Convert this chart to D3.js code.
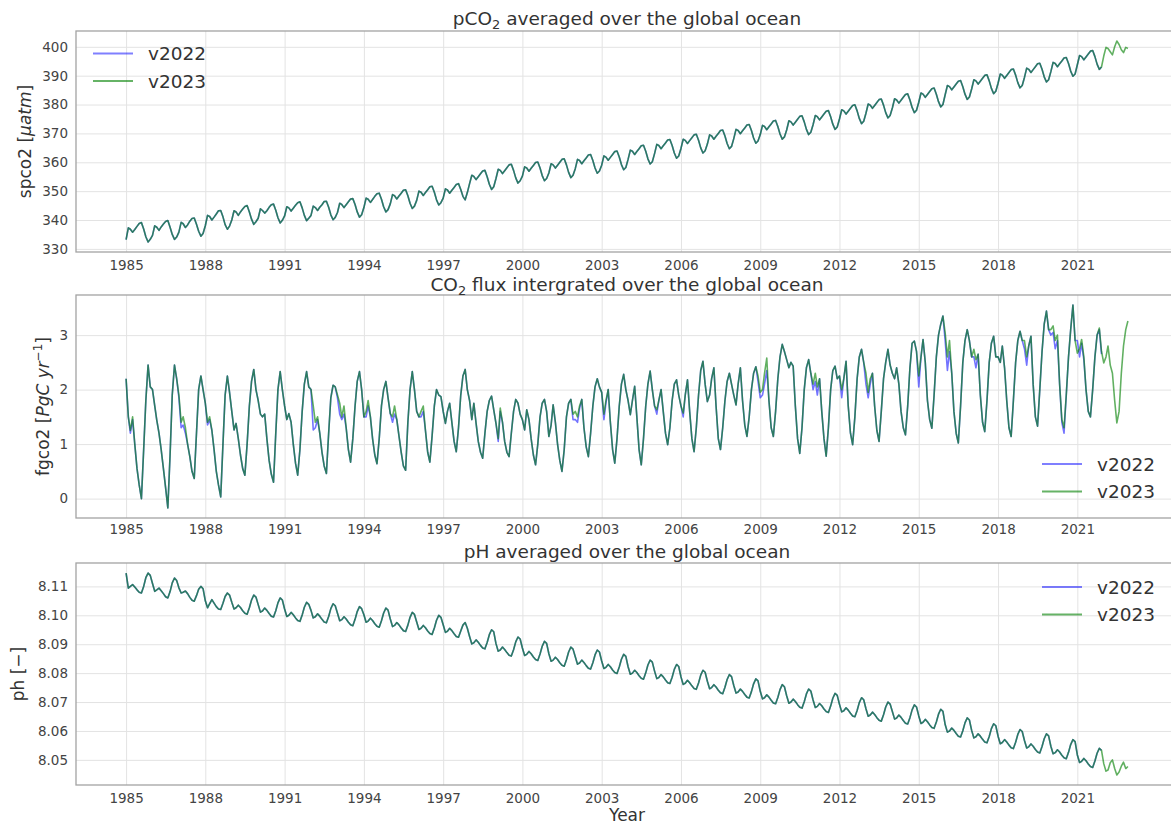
<!DOCTYPE html>
<html lang="en">
<head>
<meta charset="utf-8">
<title>Global ocean carbon: v2022 vs v2023</title>
<script src="https://cdn.jsdelivr.net/npm/d3@7/dist/d3.min.js"></script>
<style>
    html, body { margin: 0; background: #ffffff; overflow: hidden; }
    #chart svg { display: block; overflow: hidden; }
    #chart text { font-family: "DejaVu Sans", Verdana, sans-serif; }
</style>
</head>
<body>
<div id="chart"></div>
<script>
// Monthly values from Jan 1985, one row per year
const startYear = 1985;
const seriesNames = ['v2022', 'v2023'];
const seriesColors = ['#0000ff', '#008000'];
const xTickYears = [1985, 1988, 1991, 1994, 1997, 2000, 2003, 2006, 2009, 2012, 2015, 2018, 2021];
const spco2Ticks = [330, 340, 350, 360, 370, 380, 390, 400];
const fgco2Ticks = [0, 1, 2, 3];
const phTicks = [8.05, 8.06, 8.07, 8.08, 8.09, 8.10, 8.11];

// spco2 [uatm], v2023 (1985-2022)
const spco2V2023 = [
    333.2, 337.3, 336.8, 335.8, 336.7, 337.8, 338.8, 339.1, 336.9, 334.2, 332.4, 333.3, // 1985
    334.7, 338.0, 337.5, 336.4, 337.6, 338.6, 339.5, 339.8, 337.5, 335.0, 333.3, 334.1,
    335.8, 339.2, 338.7, 337.4, 338.3, 339.6, 340.5, 340.7, 338.5, 336.1, 334.4, 335.3,
    338.0, 341.6, 341.2, 340.0, 341.0, 342.1, 343.2, 343.3, 341.1, 338.4, 336.8, 337.9,
    340.0, 343.2, 342.8, 341.6, 342.8, 343.8, 344.7, 345.0, 342.8, 340.3, 338.5, 339.4,
    340.6, 343.9, 343.3, 342.4, 343.2, 344.4, 345.3, 345.5, 343.4, 340.8, 339.0, 339.9, // 1990
    341.4, 344.6, 344.2, 343.1, 344.1, 345.1, 346.0, 346.3, 344.2, 341.6, 339.8, 340.6,
    341.6, 344.8, 344.3, 343.3, 344.4, 345.3, 346.4, 346.5, 344.4, 341.8, 340.1, 340.9,
    342.6, 345.8, 345.4, 344.3, 345.3, 346.3, 347.3, 347.4, 345.4, 342.8, 341.0, 341.8,
    344.3, 347.6, 347.2, 346.1, 347.1, 348.2, 349.1, 349.3, 347.2, 344.6, 342.8, 343.6,
    345.6, 348.8, 348.4, 347.3, 348.3, 349.3, 350.3, 350.5, 348.4, 345.8, 344.0, 344.8, // 1995
    346.8, 350.0, 349.6, 348.5, 349.5, 350.5, 351.5, 351.7, 349.6, 347.0, 345.2, 346.0,
    347.6, 350.8, 350.4, 349.3, 350.3, 351.3, 352.3, 352.6, 350.6, 348.2, 347.0, 349.5,
    352.6, 355.5, 355.1, 354.0, 355.0, 356.0, 357.0, 357.2, 355.0, 352.4, 350.6, 351.5,
    354.4, 357.6, 357.2, 356.1, 357.1, 358.1, 359.1, 359.3, 357.2, 354.6, 352.8, 353.6,
    355.2, 358.4, 358.0, 356.9, 357.9, 358.9, 359.9, 360.1, 358.0, 355.4, 353.6, 354.4, // 2000
    356.3, 359.5, 359.1, 358.0, 359.0, 360.0, 361.0, 361.2, 359.1, 356.5, 354.7, 355.5,
    357.8, 361.0, 360.6, 359.5, 360.5, 361.5, 362.5, 362.7, 360.6, 358.0, 356.2, 357.0,
    359.0, 362.2, 361.8, 360.7, 361.7, 362.7, 363.7, 363.9, 361.8, 359.2, 357.4, 358.2,
    361.0, 364.2, 363.8, 362.7, 363.7, 364.7, 365.7, 365.9, 363.8, 361.2, 359.4, 360.2,
    363.0, 366.2, 365.8, 364.7, 365.7, 366.7, 367.7, 367.9, 365.8, 363.2, 361.4, 362.2, // 2005
    364.8, 368.0, 367.6, 366.5, 367.5, 368.5, 369.5, 369.7, 367.6, 365.0, 363.2, 364.0,
    366.3, 369.5, 369.1, 368.0, 369.0, 370.0, 371.0, 371.2, 369.1, 366.5, 364.7, 365.5,
    368.2, 371.4, 371.0, 369.9, 370.9, 371.9, 372.9, 373.1, 371.0, 368.4, 366.6, 367.4,
    369.6, 372.8, 372.4, 371.3, 372.3, 373.3, 374.3, 374.5, 372.4, 369.8, 368.0, 368.8,
    371.2, 374.4, 374.0, 372.9, 373.9, 374.9, 375.9, 376.1, 374.0, 371.4, 369.6, 370.4, // 2010
    373.0, 376.2, 375.8, 374.7, 375.7, 376.7, 377.7, 377.9, 375.8, 373.2, 371.4, 372.2,
    375.0, 378.2, 377.8, 376.7, 377.7, 378.7, 379.7, 379.9, 377.8, 375.2, 373.4, 374.2,
    377.0, 380.2, 379.8, 378.7, 379.7, 380.7, 381.7, 381.9, 379.8, 377.2, 375.4, 376.2,
    378.8, 382.0, 381.6, 380.5, 381.5, 382.5, 383.5, 383.7, 381.6, 379.0, 377.2, 378.0,
    380.8, 384.0, 383.6, 382.5, 383.5, 384.5, 385.5, 385.7, 383.6, 381.0, 379.2, 380.0, // 2015
    383.4, 386.6, 386.2, 385.1, 386.1, 387.1, 388.1, 388.3, 386.2, 383.6, 381.8, 382.6,
    385.4, 388.6, 388.2, 387.1, 388.1, 389.1, 390.1, 390.3, 388.2, 385.6, 383.8, 384.6,
    387.4, 390.6, 390.2, 389.1, 390.1, 391.1, 392.1, 392.3, 390.2, 387.6, 385.8, 386.6,
    389.4, 392.6, 392.2, 391.1, 392.1, 393.1, 394.1, 394.3, 392.2, 389.6, 387.8, 388.6,
    391.4, 394.6, 394.2, 393.1, 394.1, 395.1, 396.1, 396.3, 394.2, 391.6, 389.8, 390.6, // 2020
    393.8, 397.0, 396.6, 395.5, 396.5, 397.5, 398.5, 398.7, 396.6, 394.0, 392.2, 393.0,
    396.8, 399.8, 399.4, 398.3, 397.2, 400.0, 402.0, 400.8, 399.0, 398.0, 399.8, 399.4  // 2022
];
// the v2022 run lies on top of v2023 for spco2, up to Dec 2021
const spco2V2022 = spco2V2023.slice(0, 444);

// fgco2 [PgC/yr], v2023 (1985-2022)
const fgco2V2023 = [
    2.20, 1.50, 1.25, 1.50, 1.00, 0.55, 0.25, 0.00, 0.90, 1.80, 2.45, 2.05, // 1985
    2.00, 1.70, 1.44, 1.20, 0.90, 0.55, 0.20, -0.17, 0.80, 1.90, 2.45, 2.20,
    1.90, 1.40, 1.50, 1.30, 1.00, 0.77, 0.50, 0.37, 1.20, 2.00, 2.25, 2.00,
    1.75, 1.40, 1.50, 1.25, 0.90, 0.50, 0.25, 0.03, 1.00, 1.90, 2.25, 1.95,
    1.60, 1.26, 1.38, 1.10, 0.80, 0.55, 0.43, 1.00, 1.70, 2.15, 2.37, 2.00,
    1.80, 1.55, 1.50, 1.55, 1.10, 0.70, 0.45, 0.30, 1.20, 2.00, 2.33, 2.00, // 1990
    1.70, 1.45, 1.56, 1.40, 1.00, 0.65, 0.43, 0.90, 1.60, 2.10, 2.33, 2.05,
    2.00, 1.70, 1.40, 1.50, 1.20, 0.85, 0.60, 0.46, 1.20, 1.85, 2.08, 2.05,
    1.90, 1.75, 1.50, 1.70, 1.30, 0.90, 0.67, 1.10, 1.70, 2.15, 2.33, 2.00,
    1.50, 1.60, 1.80, 1.50, 1.10, 0.80, 0.64, 1.10, 1.70, 2.00, 2.15, 1.85,
    1.56, 1.50, 1.70, 1.45, 1.15, 0.85, 0.60, 0.52, 1.40, 2.00, 2.33, 2.00, // 1995
    1.60, 1.50, 1.60, 1.70, 1.25, 0.85, 0.67, 1.15, 1.70, 2.00, 1.90, 1.87,
    1.60, 1.38, 1.60, 1.75, 1.40, 1.05, 0.86, 1.30, 1.90, 2.25, 2.37, 2.00,
    1.80, 1.45, 1.75, 1.38, 1.05, 0.85, 0.74, 1.20, 1.60, 1.80, 1.88, 1.63,
    1.38, 1.10, 1.66, 1.40, 1.05, 0.85, 0.77, 1.20, 1.60, 1.82, 1.75, 1.55,
    1.45, 1.26, 1.63, 1.45, 1.10, 0.80, 0.62, 1.00, 1.50, 1.75, 1.82, 1.60, // 2000
    1.14, 1.35, 1.72, 1.40, 1.00, 0.70, 0.50, 0.90, 1.50, 1.75, 1.82, 1.55,
    1.60, 1.50, 1.70, 1.82, 1.30, 0.95, 0.77, 1.20, 1.70, 2.05, 2.20, 2.05,
    1.95, 1.55, 1.80, 2.00, 1.40, 0.90, 0.65, 1.10, 1.70, 2.10, 2.28, 2.00,
    1.80, 1.54, 1.80, 2.06, 1.50, 0.90, 0.62, 1.10, 1.70, 2.10, 2.34, 2.00,
    1.70, 1.63, 1.80, 2.00, 1.60, 1.20, 0.99, 1.30, 1.80, 2.10, 2.18, 1.90, // 2005
    1.70, 1.57, 1.90, 2.18, 1.60, 1.10, 0.86, 1.30, 1.90, 2.35, 2.52, 2.10,
    1.78, 1.90, 2.20, 2.40, 1.70, 1.10, 0.90, 1.30, 1.80, 2.15, 2.30, 2.10,
    1.90, 1.72, 2.10, 2.40, 1.80, 1.35, 1.14, 1.50, 2.00, 2.30, 2.42, 2.25,
    1.95, 2.00, 2.30, 2.58, 1.80, 1.30, 1.14, 1.60, 2.20, 2.60, 2.83, 2.70,
    2.55, 2.40, 2.50, 2.43, 1.70, 1.10, 0.83, 1.30, 2.00, 2.40, 2.55, 2.30, // 2010
    2.10, 2.30, 2.05, 2.20, 1.60, 1.10, 0.78, 1.30, 2.00, 2.35, 2.43, 2.20,
    2.25, 2.00, 2.20, 2.52, 1.70, 1.20, 0.99, 1.50, 2.20, 2.60, 2.74, 2.50,
    2.30, 1.95, 2.20, 2.30, 1.70, 1.25, 1.05, 1.60, 2.20, 2.50, 2.74, 2.45,
    2.30, 2.20, 2.40, 2.10, 1.60, 1.30, 1.17, 1.70, 2.40, 2.85, 2.89, 2.70,
    2.25, 2.60, 2.92, 2.50, 1.80, 1.45, 1.29, 1.90, 2.60, 3.00, 3.20, 3.35, // 2015
    3.04, 2.60, 2.90, 2.30, 1.60, 1.20, 1.02, 1.70, 2.50, 2.90, 3.10, 2.90,
    2.60, 2.74, 2.55, 2.65, 1.90, 1.40, 1.23, 1.80, 2.50, 2.85, 2.98, 2.60,
    2.60, 2.50, 2.80, 2.40, 1.80, 1.30, 1.14, 1.80, 2.50, 2.90, 3.07, 2.90,
    2.90, 2.60, 2.80, 2.98, 2.10, 1.50, 1.33, 2.00, 2.70, 3.20, 3.44, 3.10,
    3.10, 3.17, 2.90, 3.00, 2.10, 1.45, 1.30, 1.90, 2.60, 3.10, 3.55, 2.90, // 2020
    2.67, 2.75, 2.92, 2.60, 2.00, 1.60, 1.50, 2.00, 2.60, 3.00, 3.13, 2.70,
    2.49, 2.60, 2.80, 2.45, 2.30, 1.80, 1.39, 1.60, 2.30, 2.80, 3.10, 3.26  // 2022
];

// fgco2 [PgC/yr], v2022 (1985-2021)
const fgco2V2022 = [
    2.20, 1.50, 1.20, 1.45, 1.00, 0.55, 0.25, 0.00, 0.90, 1.80, 2.45, 2.05, // 1985
    2.00, 1.70, 1.44, 1.20, 0.90, 0.55, 0.20, -0.17, 0.80, 1.90, 2.45, 2.20,
    1.85, 1.30, 1.35, 1.20, 1.00, 0.77, 0.50, 0.37, 1.20, 2.00, 2.25, 2.00,
    1.75, 1.35, 1.45, 1.25, 0.90, 0.50, 0.25, 0.03, 1.00, 1.90, 2.25, 1.95,
    1.60, 1.26, 1.38, 1.10, 0.80, 0.55, 0.43, 1.00, 1.70, 2.15, 2.37, 2.00,
    1.80, 1.55, 1.50, 1.55, 1.10, 0.70, 0.45, 0.30, 1.20, 2.00, 2.33, 2.00, // 1990
    1.70, 1.45, 1.56, 1.40, 1.00, 0.65, 0.43, 0.90, 1.60, 2.10, 2.33, 2.05,
    2.00, 1.26, 1.30, 1.45, 1.20, 0.85, 0.60, 0.46, 1.20, 1.85, 2.08, 2.05,
    1.85, 1.55, 1.45, 1.55, 1.30, 0.90, 0.67, 1.10, 1.70, 2.15, 2.33, 2.00,
    1.50, 1.50, 1.70, 1.50, 1.10, 0.80, 0.64, 1.10, 1.70, 2.00, 2.15, 1.85,
    1.56, 1.40, 1.55, 1.45, 1.15, 0.85, 0.60, 0.52, 1.40, 2.00, 2.33, 2.00, // 1995
    1.60, 1.50, 1.50, 1.60, 1.25, 0.85, 0.67, 1.15, 1.70, 2.00, 1.90, 1.87,
    1.60, 1.38, 1.60, 1.75, 1.40, 1.05, 0.86, 1.30, 1.90, 2.25, 2.37, 2.00,
    1.80, 1.45, 1.75, 1.38, 1.05, 0.85, 0.74, 1.20, 1.60, 1.80, 1.88, 1.63,
    1.38, 1.05, 1.60, 1.40, 1.05, 0.85, 0.77, 1.20, 1.60, 1.82, 1.75, 1.55,
    1.45, 1.26, 1.63, 1.45, 1.10, 0.80, 0.62, 1.00, 1.50, 1.75, 1.82, 1.60, // 2000
    1.14, 1.35, 1.72, 1.40, 1.00, 0.70, 0.50, 0.90, 1.50, 1.75, 1.82, 1.45,
    1.45, 1.40, 1.65, 1.82, 1.30, 0.95, 0.77, 1.20, 1.70, 2.05, 2.20, 2.05,
    1.95, 1.45, 1.75, 2.00, 1.40, 0.90, 0.65, 1.10, 1.70, 2.10, 2.28, 2.00,
    1.80, 1.54, 1.80, 2.06, 1.50, 0.90, 0.62, 1.10, 1.70, 2.10, 2.34, 2.00,
    1.70, 1.55, 1.80, 2.00, 1.60, 1.20, 0.99, 1.30, 1.80, 2.10, 2.18, 1.90, // 2005
    1.70, 1.50, 1.90, 2.18, 1.60, 1.10, 0.86, 1.30, 1.90, 2.35, 2.52, 2.10,
    1.78, 1.90, 2.20, 2.40, 1.70, 1.10, 0.90, 1.30, 1.80, 2.15, 2.30, 2.10,
    1.90, 1.72, 2.10, 2.40, 1.80, 1.35, 1.14, 1.50, 2.00, 2.30, 2.42, 2.15,
    1.85, 1.90, 2.10, 2.35, 1.80, 1.30, 1.14, 1.60, 2.20, 2.60, 2.83, 2.70,
    2.55, 2.40, 2.50, 2.43, 1.70, 1.10, 0.83, 1.30, 2.00, 2.40, 2.55, 2.30, // 2010
    2.00, 2.15, 1.90, 2.20, 1.60, 1.10, 0.78, 1.30, 2.00, 2.35, 2.43, 2.20,
    2.25, 1.85, 2.20, 2.52, 1.70, 1.20, 0.99, 1.50, 2.20, 2.60, 2.74, 2.50,
    2.10, 1.85, 2.10, 2.30, 1.70, 1.25, 1.05, 1.60, 2.20, 2.50, 2.74, 2.45,
    2.30, 2.20, 2.40, 2.10, 1.60, 1.30, 1.17, 1.70, 2.40, 2.85, 2.89, 2.70,
    2.05, 2.60, 2.92, 2.50, 1.80, 1.45, 1.29, 1.90, 2.60, 3.00, 3.20, 3.35, // 2015
    2.90, 2.35, 2.70, 2.30, 1.60, 1.20, 1.02, 1.70, 2.50, 2.90, 3.10, 2.90,
    2.60, 2.60, 2.40, 2.65, 1.90, 1.40, 1.23, 1.80, 2.50, 2.85, 2.98, 2.60,
    2.60, 2.50, 2.80, 2.40, 1.80, 1.30, 1.14, 1.80, 2.50, 2.90, 3.07, 2.90,
    2.75, 2.45, 2.80, 2.98, 2.10, 1.50, 1.33, 2.00, 2.70, 3.20, 3.44, 3.10,
    3.00, 3.05, 2.75, 2.90, 2.10, 1.40, 1.20, 1.90, 2.60, 3.10, 3.55, 2.90, // 2020
    2.90, 2.60, 2.85, 2.55, 2.00, 1.60, 1.50, 2.00, 2.60, 3.00, 3.10, 2.65  // 2021
];

// ph [-], v2023 (1985-2022)
const phV2023 = [
    8.1146, 8.1094, 8.1100, 8.1106, 8.1098, 8.1088, 8.1080, 8.1077, 8.1100, 8.1130, 8.1146, 8.1138, // 1985
    8.1110, 8.1083, 8.1088, 8.1094, 8.1085, 8.1075, 8.1064, 8.1060, 8.1082, 8.1112, 8.1129, 8.1120,
    8.1095, 8.1077, 8.1080, 8.1084, 8.1075, 8.1062, 8.1052, 8.1049, 8.1068, 8.1090, 8.1100, 8.1092,
    8.1050, 8.1026, 8.1040, 8.1054, 8.1042, 8.1030, 8.1022, 8.1020, 8.1042, 8.1065, 8.1077, 8.1070,
    8.1045, 8.1022, 8.1026, 8.1035, 8.1027, 8.1016, 8.1007, 8.1004, 8.1026, 8.1053, 8.1070, 8.1063,
    8.1037, 8.1011, 8.1015, 8.1025, 8.1017, 8.1006, 8.0997, 8.0994, 8.1016, 8.1043, 8.1060, 8.1053, // 1990
    8.1022, 8.0996, 8.1000, 8.1010, 8.1002, 8.0991, 8.0982, 8.0979, 8.1001, 8.1028, 8.1045, 8.1038,
    8.1017, 8.0991, 8.0995, 8.1005, 8.0997, 8.0986, 8.0977, 8.0974, 8.0996, 8.1023, 8.1040, 8.1033,
    8.1007, 8.0981, 8.0985, 8.0995, 8.0987, 8.0976, 8.0967, 8.0964, 8.0986, 8.1013, 8.1030, 8.1023,
    8.1002, 8.0976, 8.0980, 8.0990, 8.0982, 8.0971, 8.0962, 8.0959, 8.0981, 8.1008, 8.1025, 8.1018,
    8.0987, 8.0961, 8.0965, 8.0975, 8.0967, 8.0956, 8.0947, 8.0944, 8.0966, 8.0993, 8.1010, 8.1003, // 1995
    8.0977, 8.0951, 8.0955, 8.0965, 8.0957, 8.0946, 8.0937, 8.0934, 8.0956, 8.0983, 8.1000, 8.0993,
    8.0967, 8.0941, 8.0945, 8.0955, 8.0947, 8.0936, 8.0927, 8.0924, 8.0946, 8.0966, 8.0975, 8.0955,
    8.0927, 8.0901, 8.0905, 8.0915, 8.0907, 8.0896, 8.0887, 8.0884, 8.0906, 8.0933, 8.0950, 8.0943,
    8.0902, 8.0876, 8.0880, 8.0890, 8.0882, 8.0871, 8.0862, 8.0859, 8.0881, 8.0908, 8.0925, 8.0918,
    8.0887, 8.0861, 8.0865, 8.0875, 8.0867, 8.0856, 8.0847, 8.0844, 8.0866, 8.0893, 8.0910, 8.0903, // 2000
    8.0867, 8.0841, 8.0845, 8.0855, 8.0847, 8.0836, 8.0827, 8.0824, 8.0846, 8.0873, 8.0890, 8.0883,
    8.0857, 8.0831, 8.0835, 8.0845, 8.0837, 8.0826, 8.0817, 8.0814, 8.0836, 8.0863, 8.0880, 8.0873,
    8.0842, 8.0816, 8.0820, 8.0830, 8.0822, 8.0811, 8.0802, 8.0799, 8.0821, 8.0848, 8.0865, 8.0858,
    8.0822, 8.0796, 8.0800, 8.0810, 8.0802, 8.0791, 8.0782, 8.0779, 8.0801, 8.0828, 8.0845, 8.0838,
    8.0807, 8.0781, 8.0785, 8.0795, 8.0787, 8.0776, 8.0767, 8.0764, 8.0786, 8.0813, 8.0830, 8.0823, // 2005
    8.0787, 8.0761, 8.0765, 8.0775, 8.0767, 8.0756, 8.0747, 8.0744, 8.0766, 8.0793, 8.0810, 8.0803,
    8.0772, 8.0746, 8.0750, 8.0760, 8.0752, 8.0741, 8.0732, 8.0729, 8.0751, 8.0778, 8.0795, 8.0788,
    8.0757, 8.0731, 8.0735, 8.0745, 8.0737, 8.0726, 8.0717, 8.0714, 8.0736, 8.0763, 8.0780, 8.0773,
    8.0737, 8.0711, 8.0715, 8.0725, 8.0717, 8.0706, 8.0697, 8.0694, 8.0716, 8.0743, 8.0760, 8.0753,
    8.0722, 8.0696, 8.0700, 8.0710, 8.0702, 8.0691, 8.0682, 8.0679, 8.0701, 8.0728, 8.0745, 8.0738, // 2010
    8.0707, 8.0681, 8.0685, 8.0695, 8.0687, 8.0676, 8.0667, 8.0664, 8.0686, 8.0713, 8.0730, 8.0723,
    8.0692, 8.0666, 8.0670, 8.0680, 8.0672, 8.0661, 8.0652, 8.0649, 8.0671, 8.0698, 8.0715, 8.0708,
    8.0677, 8.0651, 8.0655, 8.0665, 8.0657, 8.0646, 8.0637, 8.0634, 8.0656, 8.0683, 8.0700, 8.0693,
    8.0667, 8.0641, 8.0645, 8.0655, 8.0647, 8.0636, 8.0627, 8.0624, 8.0646, 8.0673, 8.0690, 8.0683,
    8.0652, 8.0626, 8.0630, 8.0640, 8.0632, 8.0621, 8.0612, 8.0609, 8.0631, 8.0658, 8.0675, 8.0668, // 2015
    8.0622, 8.0596, 8.0600, 8.0610, 8.0602, 8.0591, 8.0582, 8.0579, 8.0601, 8.0628, 8.0645, 8.0638,
    8.0602, 8.0576, 8.0580, 8.0590, 8.0582, 8.0571, 8.0562, 8.0559, 8.0581, 8.0608, 8.0625, 8.0618,
    8.0582, 8.0556, 8.0560, 8.0570, 8.0562, 8.0551, 8.0542, 8.0539, 8.0561, 8.0588, 8.0605, 8.0598,
    8.0567, 8.0541, 8.0545, 8.0555, 8.0547, 8.0536, 8.0527, 8.0524, 8.0546, 8.0573, 8.0590, 8.0583,
    8.0547, 8.0521, 8.0525, 8.0535, 8.0527, 8.0516, 8.0507, 8.0504, 8.0526, 8.0553, 8.0570, 8.0563, // 2020
    8.0517, 8.0491, 8.0495, 8.0505, 8.0497, 8.0486, 8.0477, 8.0474, 8.0496, 8.0523, 8.0540, 8.0533,
    8.0487, 8.0461, 8.0465, 8.0490, 8.0500, 8.0470, 8.0448, 8.0458, 8.0478, 8.0492, 8.0470, 8.0477  // 2022
];
// the v2022 run lies on top of v2023 for ph, up to Dec 2021
const phV2022 = phV2023.slice(0, 444);

const WIDTH = 1171;
const HEIGHT = 826;
const TICK_SIZE = 13.5;
const TITLE_SIZE = 18.5;
const LABEL_SIZE = 17;
const LEGEND_SIZE = 18.5;

// Append text made of plain / italic / sub / superscript pieces
function appendRich(textSel, parts, size) {
    let shift = 0;
    parts.forEach(p => {
        const target = p.sub ? size * 0.22 : (p.sup ? -size * 0.42 : 0);
        const span = textSel.append('tspan')
            .attr('dy', target - shift)
            .text(p.text);
        shift = target;
        if (p.sub || p.sup) span.attr('font-size', size * 0.7);
        if (p.italic) span.attr('font-style', 'italic');
    });
}

class TimeSeriesPanel {
    constructor(svg, options) {
        this.svg = svg;
        this.opts = options;
        this.left = 76;
        this.right = 1178;
        this.render();
    }

    render() {
        const o = this.opts;
        const g = this.svg.append('g');
        const plotH = o.bottom - o.top;
        const plotW = this.right - this.left;

        // Scales, with a 5% margin on both axes
        const longest = d3.max(o.series, s => s.length);
        const first = new Date(startYear, 0, 1);
        const last = new Date(startYear, longest - 1, 1);
        const pad = (last - first) * 0.05;
        const x = d3.scaleTime()
            .domain([new Date(+first - pad), new Date(+last + pad)])
            .range([this.left, this.right]);

        const [lo, hi] = d3.extent(o.series.flat());
        const yPad = (hi - lo) * 0.05;
        const y = d3.scaleLinear()
            .domain([lo - yPad, hi + yPad])
            .range([o.bottom, o.top]);

        // Vertical grid + year labels
        g.append('g')
            .attr('transform', `translate(0,${o.bottom})`)
            .call(d3.axisBottom(x)
                .tickValues(xTickYears.map(yr => new Date(yr, 0, 1)))
                .tickFormat(d3.timeFormat('%Y'))
                .tickSize(-plotH)
                .tickPadding(o.xPad))
            .call(a => a.select('.domain').remove())
            .call(a => a.selectAll('line').attr('stroke', '#e3e3e3').attr('stroke-width', 1))
            .call(a => a.selectAll('text').attr('fill', '#444').attr('font-size', TICK_SIZE));

        // Horizontal grid + value labels
        g.append('g')
            .attr('transform', `translate(${this.left},0)`)
            .call(d3.axisLeft(y)
                .tickValues(o.ticks)
                .tickFormat(o.format)
                .tickSize(-plotW)
                .tickPadding(8))
            .call(a => a.select('.domain').remove())
            .call(a => a.selectAll('line').attr('stroke', '#e3e3e3').attr('stroke-width', 1))
            .call(a => a.selectAll('text').attr('fill', '#444').attr('font-size', TICK_SIZE));

        // Lines: v2022 first, v2023 drawn over it
        const line = d3.line()
            .x((d, i) => x(new Date(startYear, i, 1)))
            .y(d => y(d));

        g.append('g')
            .selectAll('path')
            .data(o.series)
            .enter().append('path')
            .attr('d', d => line(d))
            .attr('fill', 'none')
            .attr('stroke', (d, i) => seriesColors[i])
            .attr('stroke-opacity', (d, i) => i === 0 ? 0.55 : 0.62)
            .attr('stroke-width', 1.6)
            .attr('stroke-linejoin', 'round');

        // Axes frame
        g.append('rect')
            .attr('x', this.left)
            .attr('y', o.top)
            .attr('width', plotW)
            .attr('height', plotH)
            .attr('fill', 'none')
            .attr('stroke', '#a3a3a3')
            .attr('stroke-width', 1.3);

        // Title
        const title = g.append('text')
            .attr('x', (this.left + this.right) / 2)
            .attr('y', o.titleY)
            .attr('text-anchor', 'middle')
            .attr('fill', '#333')
            .attr('font-size', TITLE_SIZE);
        appendRich(title, o.title, TITLE_SIZE);

        // Y label
        const ylab = g.append('text')
            .attr('transform', `translate(${o.ylabelX + LABEL_SIZE * 0.35},${(o.top + o.bottom) / 2}) rotate(-90)`)
            .attr('text-anchor', 'middle')
            .attr('fill', '#333')
            .attr('font-size', LABEL_SIZE);
        appendRich(ylab, o.ylabel, LABEL_SIZE);

        // Legend
        const legend = g.append('g')
            .selectAll('g')
            .data(seriesNames)
            .enter().append('g')
            .attr('transform', (d, i) => `translate(${o.legendX},${o.legendY + i * 27.5})`);
        legend.append('line')
            .attr('x1', 0)
            .attr('x2', 40)
            .attr('stroke', (d, i) => seriesColors[i])
            .attr('stroke-opacity', (d, i) => i === 0 ? 0.5 : 0.6)
            .attr('stroke-width', 2.2);
        legend.append('text')
            .attr('x', 55)
            .attr('dy', '0.36em')
            .attr('fill', '#333')
            .attr('font-size', LEGEND_SIZE)
            .text(d => d);
    }
}

// Build figure
const svg = d3.select('#chart')
    .append('svg')
    .attr('width', WIDTH)
    .attr('height', HEIGHT)
    .style('background', '#ffffff');

new TimeSeriesPanel(svg, {
    top: 31, bottom: 252, titleY: 24.5, ylabelX: 25, xPad: 8,
    series: [spco2V2022, spco2V2023],
    ticks: spco2Ticks, format: d3.format('d'),
    title: [{ text: 'pCO' }, { text: '2', sub: true }, { text: ' averaged over the global ocean' }],
    ylabel: [{ text: 'spco2 [' }, { text: 'μatm', italic: true }, { text: ']' }],
    legendX: 93, legendY: 53.5
});

new TimeSeriesPanel(svg, {
    top: 295, bottom: 518, titleY: 291, ylabelX: 43, xPad: 6,
    series: [fgco2V2022, fgco2V2023],
    ticks: fgco2Ticks, format: d3.format('d'),
    title: [{ text: 'CO' }, { text: '2', sub: true }, { text: ' flux intergrated over the global ocean' }],
    ylabel: [{ text: 'fgco2 [' }, { text: 'PgC yr', italic: true }, { text: '−1', sup: true }, { text: ']' }],
    legendX: 1042, legendY: 464
});

new TimeSeriesPanel(svg, {
    top: 563, bottom: 785, titleY: 558, ylabelX: 18, xPad: 8,
    series: [phV2022, phV2023],
    ticks: phTicks, format: d3.format('.2f'),
    title: [{ text: 'pH averaged over the global ocean' }],
    ylabel: [{ text: 'ph [−]' }],
    legendX: 1042, legendY: 587
});

// Shared x label
svg.append('text')
    .attr('x', 627)
    .attr('y', 821)
    .attr('text-anchor', 'middle')
    .attr('fill', '#333')
    .attr('font-size', LABEL_SIZE)
    .text('Year');
</script>
</body>
</html>
